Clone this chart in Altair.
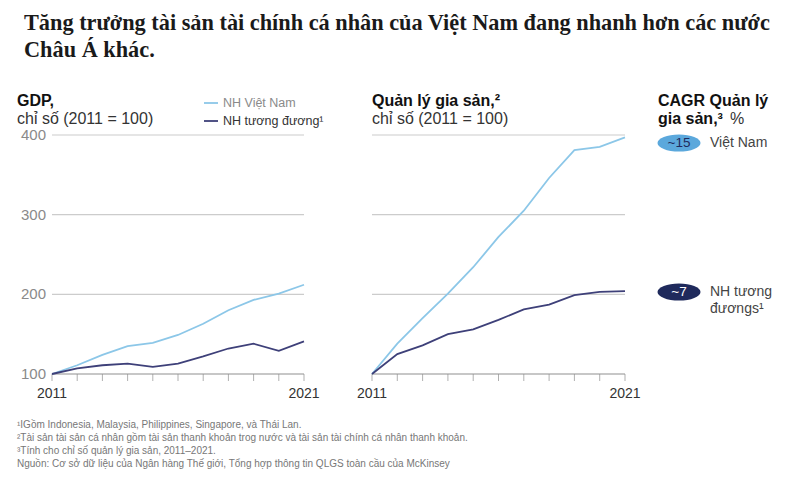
import altair as alt
import pandas as pd

years = list(range(2011, 2022))
gdp_vn = [100, 111, 124, 135, 139, 149, 163, 180, 193, 201, 212]
gdp_peer = [100, 107, 111, 113, 109, 113, 122, 132, 138, 129, 141]
wm_vn = [100, 138, 170, 201, 234, 272, 305, 346, 381, 385, 397]
wm_peer = [100, 125, 136, 150, 156, 168, 181, 187, 199, 203, 204]
series_names = ["NH Việt Nam", "NH tương đương¹"]
series_colors = ["#8cc7e8", "#3e4079"]
grid_vals = [200, 300, 400]
y_ticks = [100, 200, 300, 400]
x_label_years = [2011, 2021]
footnotes = [
    "¹IGồm Indonesia, Malaysia, Philippines, Singapore, và Thái Lan.",
    "²Tài sản tài sản cá nhân gồm tài sản thanh khoản trog nước và tài sản tài chính cá nhân thanh khoản.",
    "³Tính cho chỉ số quản lý gia sản, 2011–2021.",
    " Nguồn: Cơ sở dữ liệu của Ngân hàng Thế giới, Tổng hợp thông tin QLGS toàn cầu của McKinsey",
]
cagr_values = ["~15", "~7"]

SANS = "Liberation Sans"
SERIF = "Liberation Serif"

# panel pixel ranges (layout)
LEFT = (44, 296)
RIGHT = (364, 617)
Y_RANGE = [366, 127]

yscale = alt.Scale(domain=[100, 400], range=Y_RANGE)


def xenc(rng, field="year"):
    return alt.X(f"{field}:Q", scale=alt.Scale(domain=[2011, 2021], range=list(rng)), axis=None)


def yenc(field="value"):
    return alt.Y(f"{field}:Q", scale=yscale, axis=None)


def long_df(vn, peer):
    rows = []
    for s, vals in zip(series_names, [vn, peer]):
        for yr, v in zip(years, vals):
            rows.append({"year": yr, "value": v, "series": s})
    return pd.DataFrame(rows)


color_enc = alt.Color("series:N", scale=alt.Scale(domain=series_names, range=series_colors), legend=None)

layers = []

grid_df = pd.DataFrame({"value": grid_vals})
base_df = pd.DataFrame({"value": [100]})
years_df = pd.DataFrame({"year": years})

for rng in (LEFT, RIGHT):
    layers.append(
        alt.Chart(grid_df).mark_rule(color="#cccccc", strokeWidth=1.2).encode(
            y=yenc(), x=alt.value(rng[0]), x2=alt.value(rng[1])
        )
    )
    layers.append(
        alt.Chart(base_df).mark_rule(color="#8f8f8f", strokeWidth=1).encode(
            y=yenc(), x=alt.value(rng[0]), x2=alt.value(rng[1])
        )
    )
    layers.append(
        alt.Chart(years_df).mark_tick(color="#8f8f8f", thickness=1, size=7, orient="vertical").encode(
            x=xenc(rng), y=alt.value(Y_RANGE[0] + 3.5)
        )
    )
    layers.append(
        alt.Chart(pd.DataFrame({"year": x_label_years})).mark_text(
            font=SANS, fontSize=14, color="#333333", baseline="middle"
        ).encode(x=xenc(rng), y=alt.value(386), text=alt.Text("year:Q", format="d"))
    )

# lines
for rng, vn, peer in ((LEFT, gdp_vn, gdp_peer), (RIGHT, wm_vn, wm_peer)):
    layers.append(
        alt.Chart(long_df(vn, peer)).mark_line(strokeWidth=1.8).encode(
            x=xenc(rng), y=yenc(), color=color_enc, detail="series:N"
        )
    )

# y labels
layers.append(
    alt.Chart(pd.DataFrame({"value": y_ticks})).mark_text(
        font=SANS, fontSize=15, color="#8a8a8a", align="right", baseline="middle"
    ).encode(y=yenc(), x=alt.value(38), text=alt.Text("value:Q", format="d"))
)


def label(text, x, y, size=15, weight="normal", color="#222222", font=SANS, align="left"):
    return alt.Chart(pd.DataFrame({"t": [text]})).mark_text(
        font=font, fontSize=size, fontWeight=weight, color=color, align=align, baseline="middle"
    ).encode(x=alt.value(x), y=alt.value(y), text="t:N")


# main title
layers.append(label("Tăng trưởng tài sản tài chính cá nhân của Việt Nam đang nhanh hơn các nước",
                    16, 15, size=22.3, weight="bold", color="#1a1a1a", font=SERIF))
layers.append(label("Châu Á khác.", 16, 42, size=22.3, weight="bold", color="#1a1a1a", font=SERIF))

# panel headers
layers.append(label("GDP,", 9, 93, size=16, weight="bold", color="#111111"))
layers.append(label("chỉ số (2011 = 100)", 9, 111, size=16, color="#333333"))
layers.append(label("Quản lý gia sản,²", 364, 93, size=16, weight="bold", color="#111111"))
layers.append(label("chỉ số (2011 = 100)", 364, 111, size=16, color="#333333"))
layers.append(label("CAGR Quản lý", 650, 93, size=16, weight="bold", color="#111111"))
layers.append(label("gia sản,³", 650, 111, size=16, weight="bold", color="#111111"))
layers.append(label("%", 722, 111, size=16, color="#333333"))

# legend
for i, (name, col) in enumerate(zip(series_names, series_colors)):
    yy = 95 + 18 * i
    layers.append(
        alt.Chart(pd.DataFrame({"s": [name]})).mark_rule(color=col, strokeWidth=1.8).encode(
            x=alt.value(196), x2=alt.value(210), y=alt.value(yy)
        )
    )
    layers.append(label(name, 215, yy, size=12.5, color="#8a8a8a" if i == 0 else "#333333"))

# badges
ellipse = "M-1,0 A1,0.4 0 1,1 1,0 A1,0.4 0 1,1 -1,0 Z"
badge_fill = ["#5ba8dc", "#1f2a5c"]
badge_text = ["#1f2a5c", "#ffffff"]
badge_y = [135, 284]
for val, fill, tcol, yy in zip(cagr_values, badge_fill, badge_text, badge_y):
    layers.append(
        alt.Chart(pd.DataFrame({"v": [val]})).mark_point(
            shape=ellipse, size=1849, filled=True, fill=fill, opacity=1, strokeWidth=0
        ).encode(x=alt.value(671), y=alt.value(yy))
    )
    layers.append(label(val, 671, yy, size=13.5, color=tcol, align="center"))
layers.append(label("Việt Nam", 702, 135, size=14, color="#444444"))
layers.append(label("NH tương", 702, 284, size=14, color="#444444"))
layers.append(label("đươngs¹", 702, 301, size=14, color="#444444"))

# footnotes
for i, fn in enumerate(footnotes):
    layers.append(label(fn, 9, 416.5 + 13.3 * i, size=10, color="#777777"))

chart = alt.layer(*layers).resolve_scale(x="independent", color="independent").properties(
    width=784, height=473, autosize=alt.AutoSizeParams(type="none"), padding=0
).configure_view(stroke=None)

chart.save("out.html", embed_options={"renderer": "svg", "actions": False})
